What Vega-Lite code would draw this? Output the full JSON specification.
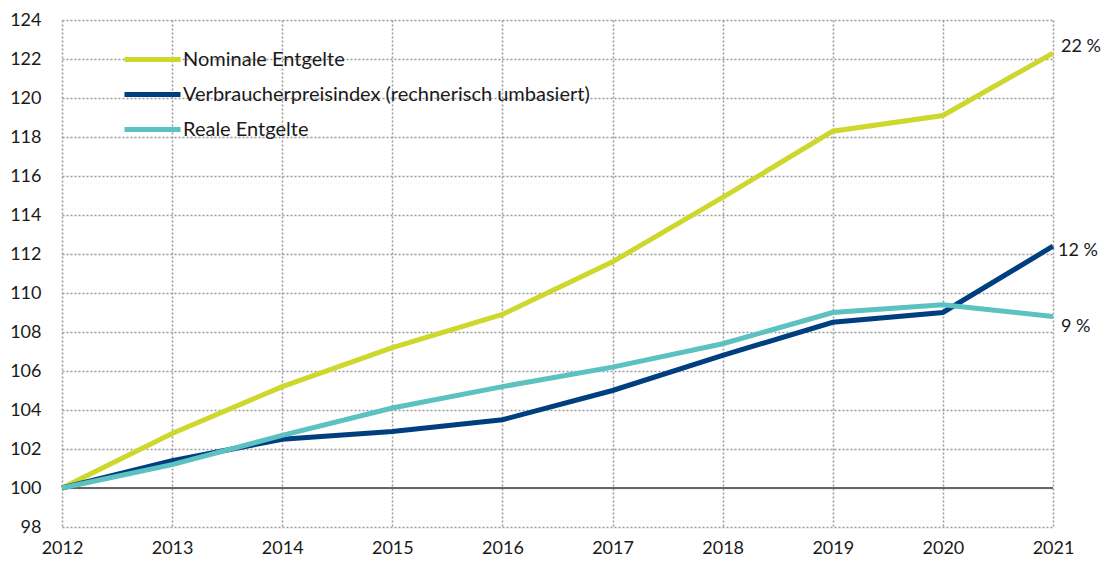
{
  "$schema": "https://vega.github.io/schema/vega-lite/v6.json",
  "autosize": "none",
  "width": 991,
  "height": 507,
  "padding": {"left": 62, "top": 20, "right": 55, "bottom": 39},
  "background": "white",
  "config": {
    "font": "Lato",
    "view": {"stroke": null},
    "axis": {"labelFont": "Lato", "labelFontSize": 18, "labelColor": "#1a1a1a"}
  },
  "data": {
    "values": [
      {"year": 2012, "series": "Nominale Entgelte", "value": 100.0},
      {"year": 2013, "series": "Nominale Entgelte", "value": 102.8},
      {"year": 2014, "series": "Nominale Entgelte", "value": 105.2},
      {"year": 2015, "series": "Nominale Entgelte", "value": 107.2},
      {"year": 2016, "series": "Nominale Entgelte", "value": 108.9},
      {"year": 2017, "series": "Nominale Entgelte", "value": 111.6},
      {"year": 2018, "series": "Nominale Entgelte", "value": 114.9},
      {"year": 2019, "series": "Nominale Entgelte", "value": 118.3},
      {"year": 2020, "series": "Nominale Entgelte", "value": 119.1},
      {"year": 2021, "series": "Nominale Entgelte", "value": 122.3},
      {"year": 2012, "series": "Verbraucherpreisindex (rechnerisch umbasiert)", "value": 100.0},
      {"year": 2013, "series": "Verbraucherpreisindex (rechnerisch umbasiert)", "value": 101.4},
      {"year": 2014, "series": "Verbraucherpreisindex (rechnerisch umbasiert)", "value": 102.5},
      {"year": 2015, "series": "Verbraucherpreisindex (rechnerisch umbasiert)", "value": 102.9},
      {"year": 2016, "series": "Verbraucherpreisindex (rechnerisch umbasiert)", "value": 103.5},
      {"year": 2017, "series": "Verbraucherpreisindex (rechnerisch umbasiert)", "value": 105.0},
      {"year": 2018, "series": "Verbraucherpreisindex (rechnerisch umbasiert)", "value": 106.8},
      {"year": 2019, "series": "Verbraucherpreisindex (rechnerisch umbasiert)", "value": 108.5},
      {"year": 2020, "series": "Verbraucherpreisindex (rechnerisch umbasiert)", "value": 109.0},
      {"year": 2021, "series": "Verbraucherpreisindex (rechnerisch umbasiert)", "value": 112.4},
      {"year": 2012, "series": "Reale Entgelte", "value": 100.0},
      {"year": 2013, "series": "Reale Entgelte", "value": 101.2},
      {"year": 2014, "series": "Reale Entgelte", "value": 102.7},
      {"year": 2015, "series": "Reale Entgelte", "value": 104.1},
      {"year": 2016, "series": "Reale Entgelte", "value": 105.2},
      {"year": 2017, "series": "Reale Entgelte", "value": 106.2},
      {"year": 2018, "series": "Reale Entgelte", "value": 107.4},
      {"year": 2019, "series": "Reale Entgelte", "value": 109.0},
      {"year": 2020, "series": "Reale Entgelte", "value": 109.4},
      {"year": 2021, "series": "Reale Entgelte", "value": 108.8}
    ]
  },
  "encoding": {
    "x": {
      "field": "year", "type": "quantitative",
      "scale": {"domain": [2012, 2021], "nice": false, "zero": false},
      "axis": {
        "values": [2012, 2013, 2014, 2015, 2016, 2017, 2018, 2019, 2020, 2021],
        "format": "d", "title": null, "domain": false, "ticks": false,
        "labelPadding": 12, "labelFlush": false,
        "grid": true, "gridColor": "#9a9a9a", "gridDash": [2, 2], "gridWidth": 1.5
      }
    },
    "y": {
      "field": "value", "type": "quantitative",
      "scale": {"domain": [98, 124], "nice": false, "zero": false},
      "axis": {
        "values": [98, 100, 102, 104, 106, 108, 110, 112, 114, 116, 118, 120, 122, 124],
        "title": null, "domain": false, "ticks": false, "labelPadding": 21,
        "grid": true, "gridColor": "#9a9a9a", "gridDash": [2, 2], "gridWidth": 1.5
      }
    }
  },
  "layer": [
    {
      "mark": {"type": "rule", "color": "#666666", "strokeWidth": 2},
      "data": {"values": [{"ref": 100}]},
      "encoding": {"y": {"field": "ref", "type": "quantitative"}, "x": null}
    },
    {
      "mark": {"type": "line", "strokeWidth": 5, "strokeCap": "butt"},
      "encoding": {
        "color": {
          "field": "series", "type": "nominal",
          "scale": {
            "domain": ["Nominale Entgelte", "Verbraucherpreisindex (rechnerisch umbasiert)", "Reale Entgelte"],
            "range": ["#cdd72c", "#003f7f", "#5bc1c1"]
          },
          "legend": {
            "title": null, "orient": "none", "legendX": 74, "legendY": 23,
            "symbolType": "M-2,0H2", "symbolSize": 784, "symbolStrokeWidth": 5,
            "labelFontSize": 20, "labelFont": "Lato", "labelColor": "#1a1a1a",
            "labelOffset": 14, "rowPadding": 8, "labelLimit": 600
          }
        },
        "order": {"field": "year"}
      }
    },
    {
      "mark": {"type": "text", "align": "left", "baseline": "middle", "dx": 8, "dy": -6, "fontSize": 18, "color": "#1a1a1a"},
      "transform": [{"filter": "datum.year == 2021 && datum.series == 'Nominale Entgelte'"}],
      "encoding": {"text": {"value": "22 %"}}
    },
    {
      "mark": {"type": "text", "align": "left", "baseline": "middle", "dx": 5, "dy": 5, "fontSize": 18, "color": "#1a1a1a"},
      "transform": [{"filter": "datum.year == 2021 && datum.series == 'Verbraucherpreisindex (rechnerisch umbasiert)'"}],
      "encoding": {"text": {"value": "12 %"}}
    },
    {
      "mark": {"type": "text", "align": "left", "baseline": "middle", "dx": 8, "dy": 11, "fontSize": 18, "color": "#1a1a1a"},
      "transform": [{"filter": "datum.year == 2021 && datum.series == 'Reale Entgelte'"}],
      "encoding": {"text": {"value": "9 %"}}
    }
  ]
}
